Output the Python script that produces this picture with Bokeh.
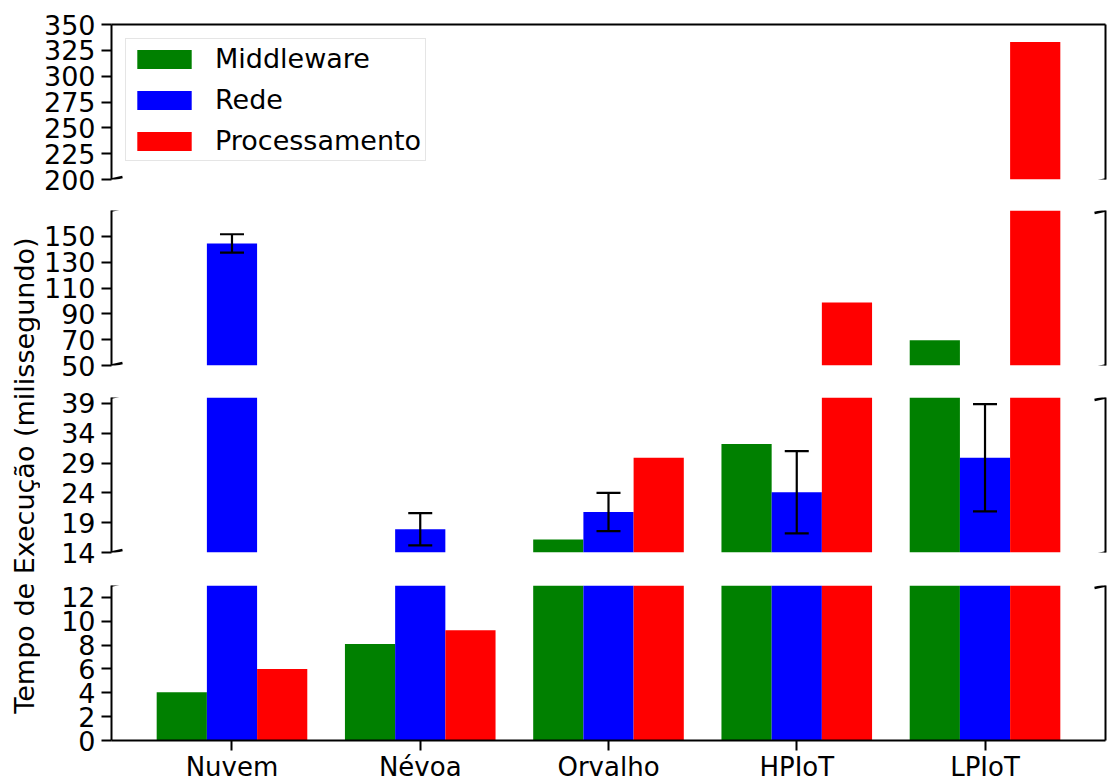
import math
from bokeh.plotting import figure
from bokeh.models import (FactorRange, Range1d, FixedTicker, LinearAxis, CategoricalAxis,
                          Whisker, TeeHead, ColumnDataSource, Legend, LegendItem, Arrow, Label,
                          CDSView, BooleanFilter)
from bokeh.layouts import row, column
from bokeh.transform import dodge
from bokeh.embed import file_html
from bokeh.resources import INLINE

# ---------------- data ----------------
categories = ["Nuvem", "Névoa", "Orvalho", "HPIoT", "LPIoT"]
middleware = [4.05, 8.1, 16.2, 32.2, 69.5]
rede = [144.5, 17.9, 20.8, 24.1, 29.9]
rede_err = [7.1, 2.7, 3.2, 6.9, 9.0]
processamento = [6.0, 9.25, 29.9, 98.7, 333.0]
series_names = ["Middleware", "Rede", "Processamento"]
series_colors = ["#008000", "#0000ff", "#ff0000"]

panel_ranges = [(200, 350), (50, 170), (14, 40), (0, 13)]
panel_ticks = [[200, 225, 250, 275, 300, 325, 350],
               [50, 70, 90, 110, 130, 150],
               [14, 19, 24, 29, 34, 39],
               [0, 2, 4, 6, 8, 10, 12]]
y_label = "Tempo de Execução (milissegundo)"

# ---------------- layout constants ----------------
FONT = "DejaVu Sans"
FS = "27px"
FS_X = "26px"
LABEL_W = 40
PANEL_W = 1108 - LABEL_W
BORDER_L = 70
BORDER_R = 3
# (height, top border, bottom border)
panel_geom = [(194, 24, 15), (187, 16, 16), (187, 16, 16), (216, 17, 42)]

bar_w = 0.8 / 3
offsets = [-bar_w, 0.0, bar_w]
x_range = FactorRange(factors=categories, range_padding=0.056)

values = {"Middleware": middleware, "Rede": rede, "Processamento": processamento}

n = len(categories)
pad_units = n * 0.056 / 2
x_left = -pad_units
x_right = n + pad_units
frame_w = PANEL_W - BORDER_L - BORDER_R
units_per_px_x = (x_right - x_left) / frame_w

panels = []
legend_renderers = []
for k, ((lo, hi), ticks, (h, bt, bb)) in enumerate(zip(panel_ranges, panel_ticks, panel_geom)):
    p = figure(width=PANEL_W, height=h, x_range=x_range, y_range=Range1d(lo, hi),
               output_backend="svg", toolbar_location=None,
               x_axis_location=None, y_axis_location=None,
               min_border_left=BORDER_L, min_border_right=BORDER_R,
               min_border_top=bt, min_border_bottom=bb)
    p.outline_line_color = None
    p.background_fill_color = "white"
    p.border_fill_color = "white"
    p.grid.visible = False

    data = dict(cat=categories)
    for name in series_names:
        data[name] = values[name]
    src = ColumnDataSource(data)

    for name, off, col in zip(series_names, offsets, series_colors):
        view = CDSView(filter=BooleanFilter([v > lo for v in values[name]]))
        p.vbar(x=dodge("cat", off, range=x_range), top=name, bottom=lo, width=bar_w,
               source=src, view=view, fill_color=col, line_color=None)
        if k == 0:
            # zero-height proxy bars that only carry the legend swatch
            lr = p.vbar(x=dodge("cat", off, range=x_range), top=lo, bottom=lo, width=bar_w,
                        source=src, fill_color=col, line_color=None)
            legend_renderers.append(lr)

    # error bars (only those inside this panel)
    wc, wu, wl = [], [], []
    for c, v, e in zip(categories, rede, rede_err):
        if v - e >= lo and v + e <= hi:
            wc.append(c); wu.append(v + e); wl.append(v - e)
    if wc:
        wsrc = ColumnDataSource(dict(cat=wc, upper=wu, lower=wl))
        wh = Whisker(base="cat", upper="upper", lower="lower", source=wsrc,
                     line_color="black", line_width=2.2, level="overlay",
                     upper_head=TeeHead(size=24, line_width=2.2, line_color="black"),
                     lower_head=TeeHead(size=24, line_width=2.2, line_color="black"))
        p.add_layout(wh)

    # left axis
    ax = LinearAxis(ticker=FixedTicker(ticks=ticks))
    ax.major_label_text_font = FONT
    ax.major_label_text_font_size = FS
    ax.major_label_text_color = "black"
    ax.major_tick_out = 10
    ax.major_tick_in = 0
    ax.minor_tick_out = 0
    ax.minor_tick_in = 0
    ax.axis_line_width = 2
    ax.major_tick_line_width = 2
    ax.major_label_standoff = 6
    p.add_layout(ax, "left")

    # right spine
    ra = LinearAxis(ticker=FixedTicker(ticks=[]))
    ra.major_tick_out = 0
    ra.major_tick_in = 0
    ra.minor_tick_out = 0
    ra.minor_tick_in = 0
    ra.major_label_standoff = 0
    ra.axis_line_width = 2
    p.add_layout(ra, "right")

    if k == 0:
        ta = LinearAxis(ticker=FixedTicker(ticks=[]))
        ta.major_tick_out = 0
        ta.major_tick_in = 0
        ta.minor_tick_out = 0
        ta.minor_tick_in = 0
        ta.major_label_standoff = 0
        ta.axis_line_width = 2
        p.add_layout(ta, "above")
    if k == len(panel_ranges) - 1:
        ba = CategoricalAxis()
        ba.major_label_text_font = FONT
        ba.major_label_text_font_size = FS_X
        ba.major_label_text_color = "black"
        ba.major_tick_out = 10
        ba.major_tick_in = 0
        ba.axis_line_width = 2
        ba.major_tick_line_width = 2
        ba.major_label_standoff = 1
        p.add_layout(ba, "below")

    # break marks
    frame_h = h - bt - bb
    upp_y = (hi - lo) / frame_h
    dx = 11 * units_per_px_x
    dy = 2.5 * upp_y
    ys = []
    if k > 0:
        ys.append(hi)
    if k < len(panel_ranges) - 1:
        ys.append(lo)
    for yy in ys:
        for xx in (x_left, x_right):
            p.add_layout(Arrow(end=None, x_start=xx - dx, y_start=yy - dy,
                               x_end=xx + dx, y_end=yy + dy,
                               line_color="black", line_width=2.5))
    panels.append(p)

# legend in top panel
legend = Legend(items=[LegendItem(label=nm, renderers=[r]) for nm, r in zip(series_names, legend_renderers)],
                location="top_left")
legend.margin = 14
legend.padding = 4
legend.spacing = 10
legend.glyph_width = 68
legend.glyph_height = 24
legend.label_standoff = 17
legend.label_text_font = FONT
legend.label_text_font_size = FS
legend.label_text_color = "black"
legend.border_line_color = "#cccccc"
legend.border_line_width = 1.5
legend.background_fill_color = "white"
legend.background_fill_alpha = 0.8
panels[0].add_layout(legend)

# y label figure
lab = figure(width=LABEL_W, height=784, x_range=Range1d(0, LABEL_W), y_range=Range1d(0, 784),
             output_backend="svg", toolbar_location=None,
             x_axis_location=None, y_axis_location=None, min_border=0)
lab.outline_line_color = None
lab.grid.visible = False
lab.add_layout(Label(x=23.5, y=784 - 475, text=y_label, angle=math.pi / 2,
                     text_align="center", text_baseline="middle",
                     text_font=FONT, text_font_size=FS, text_color="black"))

layout = row(lab, column(*panels))
open("out.html", "w").write(file_html(layout, INLINE))
